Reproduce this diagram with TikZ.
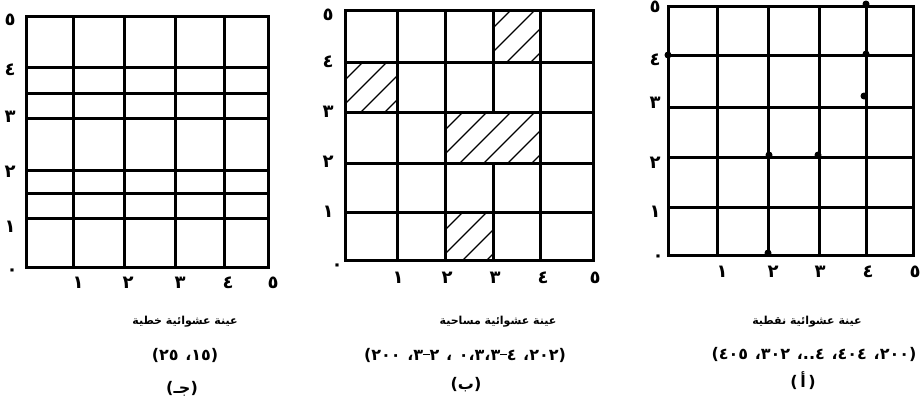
\documentclass[tikz,border=0pt]{standalone}
\usepackage{fontspec}
\newfontfamily\arabicfont[Script=Arabic]{DejaVu Sans}
\TeXXeTstate=1
\newcommand{\dsh}{\rule[0.3em]{0.4em}{0.08em}}
\newcommand{\numsty}{\arabicfont\bfseries\fontsize{16}{18}\selectfont\spaceskip=0.42em\relax}
\newcommand{\hatchcell}[4]{%
  \begin{scope}
    \clip (#1,#2) rectangle (#3,#4);
    \foreach \k in {1,...,10}{%
      \pgfmathsetmacro{\cc}{#1+#2+\k*24-6}
      \draw[hatchline] (\cc-#4,#4) -- (\cc-#2,#2);
    }
  \end{scope}}
\begin{document}
\begin{tikzpicture}[x=1pt,y=-1pt,
  gridline/.style={line width=3pt, line cap=rect},
  hatchline/.style={line width=1.3pt},
  axlab/.style={font=\arabicfont\bfseries\fontsize{18}{20}\selectfont, inner sep=0pt},
  captxt/.style={font=\arabicfont\bfseries\fontsize{11}{13}\selectfont, inner sep=0pt},
  numtxt/.style={font=\numsty, inner sep=0pt},
  sdot/.style={circle, fill=black, inner sep=0pt, minimum size=7pt}]
\useasboundingbox[fill=white] (0,0) rectangle (922,407);

% ---------------- left grid (ج)
\draw[gridline] (26,16) rectangle (268,267);
\foreach \x in {73,124,175,224} \draw[gridline] (\x,16) -- (\x,267);
\foreach \y in {67,93,118,170,193,218} \draw[gridline] (26,\y) -- (268,\y);
\node[axlab] (cy5) at (10,20) {٥};
\node[axlab] (cy4) at (10,70) {٤};
\node[axlab] (cy3) at (10,117) {٣};
\node[axlab] (cy2) at (10,172) {٢};
\node[axlab] (cy1) at (10,227) {١};
\node[axlab] (cy0) at (12,272) {٠};
\node[axlab] (cx1) at (78,283) {١};
\node[axlab] (cx2) at (128,283) {٢};
\node[axlab] (cx3) at (180,283) {٣};
\node[axlab] (cx4) at (228,283) {٤};
\node[axlab] (cx5) at (273,283) {٥};
\node[captxt] (ct1) at (185,322) {\beginR عينة عشوائية خطية\endR};
\node[numtxt] (ct2) at (185,355) {\beginR(١٥، ٢٥)\endR};
\node[numtxt] (ct3) at (182,389) {\beginR(جـ)\endR};

% ---------------- middle grid (ب)
\hatchcell{493}{10}{540}{62}
\hatchcell{345}{62}{397}{112}
\hatchcell{445}{112}{540}{163}
\hatchcell{445}{212}{493}{260}
\draw[gridline] (345,10) rectangle (593,260);
\foreach \x in {397,445,540} \draw[gridline] (\x,10) -- (\x,260);
\draw[gridline] (493,10) -- (493,112);
\draw[gridline] (493,163) -- (493,260);
\foreach \y in {62,112,163,212} \draw[gridline] (345,\y) -- (593,\y);
\node[axlab] (by5) at (328,15) {٥};
\node[axlab] (by4) at (328,62) {٤};
\node[axlab] (by3) at (328,112) {٣};
\node[axlab] (by2) at (328,162) {٢};
\node[axlab] (by1) at (328,212) {١};
\node[axlab] (by0) at (337,267) {٠};
\node[axlab] (bx1) at (398,278) {١};
\node[axlab] (bx2) at (447,278) {٢};
\node[axlab] (bx3) at (495,278) {٣};
\node[axlab] (bx4) at (543,278) {٤};
\node[axlab] (bx5) at (595,278) {٥};
\node[captxt] (bt1) at (498,322) {\beginR عينة عشوائية مساحية\endR};
\node[numtxt] (bt2) at (465,355) {\beginR(٢٠٢، ٤\dsh٠،٣،٣ ، ٢\dsh٣، ٢٠٠)\endR};
\node[numtxt] (bt3) at (466,385) {\beginR(ب)\endR};

% ---------------- right grid (أ)
\draw[gridline] (668,6) rectangle (913,255);
\foreach \x in {717,768,819,866} \draw[gridline] (\x,6) -- (\x,255);
\foreach \y in {55,107,157,207} \draw[gridline] (668,\y) -- (913,\y);
\node[sdot] (p1) at (768,253) {};
\node[sdot] (p2) at (866,54) {};
\node[sdot] (p3) at (864,96) {};
\node[sdot] (p4) at (769,155) {};
\node[sdot] (p5) at (818,155) {};
\node[sdot] (p6) at (866,4) {};
\node[sdot] (p7) at (668,55) {};
\node[axlab] (ay5) at (655,7) {٥};
\node[axlab] (ay4) at (655,60) {٤};
\node[axlab] (ay3) at (655,103) {٣};
\node[axlab] (ay2) at (655,163) {٢};
\node[axlab] (ay1) at (655,212) {١};
\node[axlab] (ay0) at (658,258) {٠};
\node[axlab] (ax1) at (722,272) {١};
\node[axlab] (ax2) at (773,272) {٢};
\node[axlab] (ax3) at (820,272) {٣};
\node[axlab] (ax4) at (868,272) {٤};
\node[axlab] (ax5) at (915,272) {٥};
\node[captxt] (at1) at (807,322) {\beginR عينة عشوائية نقطية\endR};
\node[numtxt] (at2) at (814,354) {\beginR(٢٠٠، ٤٠٤، ٤..، ٣٠٢، ٤٠٥)\endR};
\node[numtxt] (at3) at (803,381) {\beginR(\,أ\,)\endR};
\end{tikzpicture}
\end{document}
